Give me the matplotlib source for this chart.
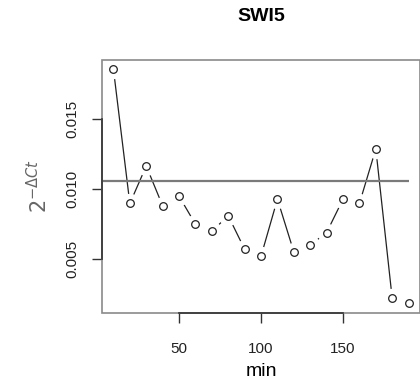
import matplotlib.pyplot as plt
from matplotlib.patches import Rectangle

# time points (min) and relative expression 2^-dCt
minutes = [10, 20, 30, 40, 50, 60, 70, 80, 90, 100,
           110, 120, 130, 140, 150, 160, 170, 180, 190]
expr = [0.01857, 0.00898, 0.01166, 0.00881, 0.0095, 0.0075, 0.0070, 0.0081,
        0.00571, 0.00521, 0.00929, 0.00552, 0.0060, 0.0069, 0.00929, 0.00898,
        0.01288, 0.00219, 0.00184]
mean_level = 0.0106
xticks = [50, 100, 150]
yticks = [0.005, 0.010, 0.015]
yticklabels = ['0.005', '0.010', '0.015']

plt.rcParams['font.family'] = ['Liberation Sans', 'DejaVu Sans']

fig = plt.figure(figsize=(4.2, 3.87), dpi=100)
ax = fig.add_axes([0.242, 0.192, 0.759, 0.653])

# R-like range: data range +/- 4%
xr = max(minutes) - min(minutes)
yr = max(expr) - min(expr)
ax.set_xlim(min(minutes) - 0.04 * xr, max(minutes) + 0.04 * xr)
ax.set_ylim(min(expr) - 0.04 * yr, max(expr) + 0.04 * yr)

# type="b": line with gaps around points
ax.plot(minutes, expr, color='#222222', lw=0.9, zorder=2)
ax.plot(minutes, expr, ls='none', marker='o', ms=13, mfc='white', mec='white', zorder=3)
ax.plot(minutes, expr, ls='none', marker='o', ms=5.5, mfc='white', mec='#222222', mew=0.9, zorder=5)

# reference level
ax.hlines(mean_level, ax.get_xlim()[0], max(minutes), color='#7a7a7a', lw=1.6, zorder=4)

# gray box + dark axis lines like base R
ax.add_patch(Rectangle((0, 0), 1, 1, transform=ax.transAxes, fill=False,
                       edgecolor='#8a8a8a', lw=1.2, clip_on=False, zorder=6))
for s in ['top', 'right']:
    ax.spines[s].set_visible(False)
ax.spines['left'].set_bounds(0.005, 0.015)
ax.spines['bottom'].set_bounds(50, 150)
for s in ['left', 'bottom']:
    ax.spines[s].set_color('#333333')
    ax.spines[s].set_linewidth(1.2)
    ax.spines[s].set_zorder(7)

ax.set_xticks(xticks)
ax.set_yticks(yticks)
ax.set_yticklabels(yticklabels, rotation=90, va='center')
ax.tick_params(length=7, width=1, color='#333333', labelsize=11, labelcolor='#222222')
ax.tick_params(axis='x', pad=14)
ax.tick_params(axis='y', pad=9)

ax.set_xlabel('min', fontsize=14, labelpad=5)
ax.set_ylabel(r'$2^{-\Delta Ct}$', fontsize=15, color='#666666', labelpad=10)
ax.set_title('SWI5', fontsize=14, fontweight='bold', pad=28)

fig.savefig('out.png', dpi=100)
